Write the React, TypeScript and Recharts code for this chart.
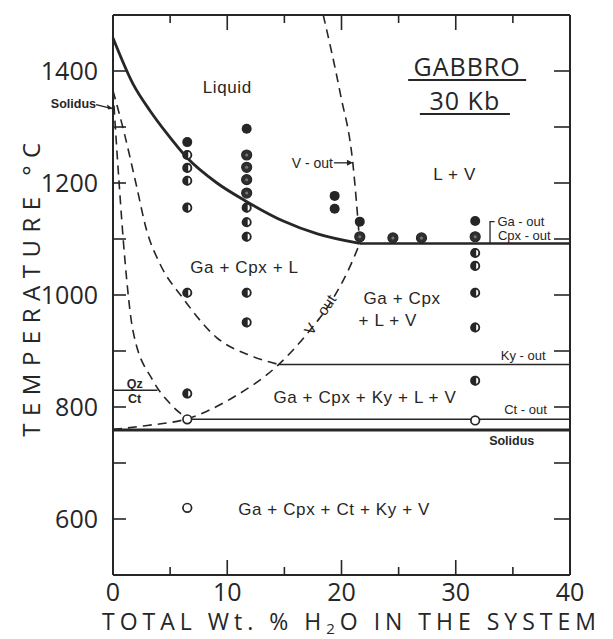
import React from "react";
import { ComposedChart, Line, Scatter, XAxis, YAxis, ReferenceLine } from "recharts";

const ink = "#262626";
const axisFont = "'Open Sans', 'DejaVu Sans', sans-serif";
const labelFont = "'Liberation Sans', Arial, sans-serif";

// axes
const xTicks = [0, 5, 10, 15, 20, 25, 30, 35, 40];
const xTickLabels = [0, 10, 20, 30, 40];
const yTicks = [500, 600, 700, 800, 900, 1000, 1100, 1200, 1300, 1400, 1500];
const yTickLabels = [600, 800, 1000, 1200, 1400];

// phase boundaries (wt % H2O, °C)
const liquidus = [
  { x: 0, y: 1459 },
  { x: 1.75, y: 1377 },
  { x: 3.24, y: 1329 },
  { x: 4.73, y: 1288 },
  { x: 6.48, y: 1245 },
  { x: 9.1, y: 1200 },
  { x: 11.6, y: 1168 },
  { x: 14.9, y: 1132 },
  { x: 17.9, y: 1109 },
  { x: 21.6, y: 1092 },
];
const cpxOut = [
  { x: 21.6, y: 1092 },
  { x: 40, y: 1092 },
];
const vOutUpper = [
  { x: 18.4, y: 1500 },
  { x: 19.9, y: 1359 },
  { x: 21.0, y: 1234 },
  { x: 21.6, y: 1092 },
];
const vOutLower = [
  { x: 0, y: 760 },
  { x: 3, y: 767 },
  { x: 6.5, y: 779 },
  { x: 10.5, y: 817 },
  { x: 14.4, y: 874 },
  { x: 17, y: 931 },
  { x: 19.3, y: 995 },
  { x: 20.7, y: 1049 },
  { x: 21.6, y: 1092 },
];
const qzOut = [
  { x: 0, y: 1365 },
  { x: 0.5, y: 1210 },
  { x: 1.05, y: 1061 },
  { x: 1.75, y: 936 },
  { x: 3.5, y: 847 },
  { x: 5, y: 806 },
  { x: 6.5, y: 779 },
];
const glassBoundary = [
  { x: 0, y: 1365 },
  { x: 1, y: 1288 },
  { x: 2, y: 1200 },
  { x: 2.95, y: 1115 },
  { x: 4.1, y: 1056 },
  { x: 6.1, y: 995 },
  { x: 9.07, y: 924 },
  { x: 12, y: 892 },
  { x: 14.5, y: 876 },
];
const kyOut = [
  { x: 14.5, y: 876 },
  { x: 40, y: 876 },
];
const ctOut = [
  { x: 6.5, y: 778 },
  { x: 40, y: 778 },
];
const solidus = [
  { x: 0, y: 759 },
  { x: 40, y: 759 },
];
const qzCt = [
  { x: 0, y: 830 },
  { x: 3.9, y: 830 },
];
const gaOutBracket = [
  { x: 33.4, y: 1131 },
  { x: 33.0, y: 1131 },
  { x: 33.0, y: 1093 },
];

// experimental runs
const liquidRuns = [
  { x: 6.5, y: 1273 },
  { x: 11.7, y: 1297 },
  { x: 19.4, y: 1177 },
  { x: 19.4, y: 1154 },
  { x: 21.6, y: 1131 },
  { x: 31.7, y: 1132 },
];
const nearLiquidusRuns = [
  { x: 11.7, y: 1250 },
  { x: 11.7, y: 1228 },
  { x: 11.7, y: 1206 },
  { x: 11.7, y: 1182 },
  { x: 21.6, y: 1104 },
  { x: 24.5, y: 1102 },
  { x: 27, y: 1102 },
  { x: 31.7, y: 1104 },
];
const meltRuns = [
  { x: 6.5, y: 1250 },
  { x: 6.5, y: 1227 },
  { x: 6.5, y: 1204 },
  { x: 6.5, y: 1156 },
  { x: 6.5, y: 1004 },
  { x: 6.5, y: 824 },
  { x: 11.7, y: 1156 },
  { x: 11.7, y: 1130 },
  { x: 11.7, y: 1104 },
  { x: 11.7, y: 1004 },
  { x: 11.7, y: 951 },
  { x: 31.7, y: 1075 },
  { x: 31.7, y: 1052 },
  { x: 31.7, y: 1004 },
  { x: 31.7, y: 942 },
  { x: 31.7, y: 847 },
];
const subsolidusRuns = [
  { x: 6.5, y: 778 },
  { x: 6.5, y: 620 },
  { x: 31.7, y: 776 },
];

// text
const fieldLabels = [
  { x: 10.0, y: 1370, text: "Liquid" },
  { x: 29.9, y: 1216, text: "L + V" },
  { x: 11.5, y: 1049, text: "Ga + Cpx + L" },
  { x: 25.3, y: 993, text: "Ga + Cpx" },
  { x: 24.05, y: 954, text: "+ L + V" },
  { x: 22.05, y: 817, text: "Ga + Cpx + Ky + L + V" },
  { x: 19.35, y: 617, text: "Ga + Cpx + Ct + Ky + V" },
];
const titleLabels = [
  { x: 31.0, y: 1409, text: "GABBRO" },
  { x: 30.8, y: 1348, text: "30 Kb" },
];
const boundaryLabels = [
  { x: 35.7, y: 1131, text: "Ga - out" },
  { x: 36.0, y: 1106, text: "Cpx - out" },
  { x: 35.9, y: 892, text: "Ky - out" },
  { x: 36.1, y: 795, text: "Ct - out" },
];
const boldLabels = [
  { x: 34.9, y: 740, text: "Solidus" },
  { x: 1.9, y: 841, text: "Qz" },
  { x: 1.9, y: 815, text: "Ct" },
];
const solidusArrowLabel = [{ x: 0, y: 1333, text: "Solidus" }];
const vOutArrowLabel = [{ x: 21.0, y: 1236, text: "V - out" }];
const vOutSlantLabel = [{ x: 18.1, y: 965, text: "V - out" }];

const underlineWidth: Record<string, number> = { GABBRO: 118, "30 Kb": 90 };

// inward tick marks on all four sides, placed through the chart scales
const innerX = xTicks.filter((v) => v > 0 && v < 40);
const innerY = yTicks.filter((v) => v > 500 && v < 1500);
const bottomMarks = innerX.map((v) => ({ x: v, y: 500 }));
const topMarks = innerX.map((v) => ({ x: v, y: 1500 }));
const leftMarks = innerY.map((v) => ({ x: 0, y: v }));
const rightMarks = innerY.map((v) => ({ x: 40, y: v }));

const tickLen = (v: number) => (v % 10 === 0 ? 15 : 8);
const BottomMark = ({ cx, cy, payload }: any) => (
  <line x1={cx} y1={cy} x2={cx} y2={cy - tickLen(payload.x)} stroke={ink} strokeWidth={1.6} />
);
const TopMark = ({ cx, cy, payload }: any) => (
  <line x1={cx} y1={cy} x2={cx} y2={cy + tickLen(payload.x)} stroke={ink} strokeWidth={1.6} />
);
const LeftMark = ({ cx, cy }: any) => <line x1={cx} y1={cy} x2={cx + 13} y2={cy} stroke={ink} strokeWidth={1.6} />;
const RightMark = ({ cx, cy }: any) => <line x1={cx} y1={cy} x2={cx - 16} y2={cy} stroke={ink} strokeWidth={1.6} />;

const BottomTick = ({ x, y, payload }: any) =>
  xTickLabels.includes(payload.value) ? (
    <text x={x} y={y + 26} textAnchor="middle" fontSize={25} fontFamily={axisFont} fill={ink}>
      {payload.value}
    </text>
  ) : (
    <g />
  );

const LeftTick = ({ x, y, payload }: any) =>
  yTickLabels.includes(payload.value) ? (
    <text x={x - 15} y={y + 9} textAnchor="end" fontSize={25} fontFamily={axisFont} fill={ink}>
      {payload.value}
    </text>
  ) : (
    <g />
  );

const YTitle = (props: any) => {
  const vb = props.viewBox || { x: 0, y: 15, width: 113, height: 560 };
  const cx = vb.x + 40;
  const cy = vb.y + vb.height / 2 - 9;
  return (
    <text
      transform={`translate(${cx},${cy}) rotate(-90)`}
      textAnchor="middle"
      fontSize={24}
      fontFamily={axisFont}
      letterSpacing={7.5}
      fill={ink}
    >
      TEMPERATURE °C
    </text>
  );
};

const XTitle = (props: any) => {
  const vb = props.viewBox || { x: 113, y: 575, width: 457, height: 64 };
  return (
    <text
      x={vb.x + vb.width / 2 + 10}
      y={vb.y + 55}
      textAnchor="middle"
      fontSize={23}
      fontFamily={axisFont}
      letterSpacing={5}
      fill={ink}
    >
      TOTAL Wt. % H
      <tspan fontSize={15} dy={4}>2</tspan>
      <tspan dy={-4}>O IN THE SYSTEM</tspan>
    </text>
  );
};

const R = 5;
const FilledDot = ({ cx, cy }: any) => <circle cx={cx} cy={cy} r={R} fill={ink} />;
const DarkDot = ({ cx, cy }: any) => (
  <g>
    <circle cx={cx} cy={cy} r={R} fill="#303030" stroke={ink} strokeWidth={1.2} />
    <circle cx={cx} cy={cy} r={1.5} fill="#777" />
  </g>
);
const HalfDot = ({ cx, cy }: any) => (
  <g>
    <circle cx={cx} cy={cy} r={R - 0.9} fill="#fff" stroke={ink} strokeWidth={1.9} />
    <path d={`M${cx + 1},${cy - R} A${R},${R} 0 0 0 ${cx + 1},${cy + R} Z`} fill={ink} />
  </g>
);
const OpenDot = ({ cx, cy }: any) => (
  <circle cx={cx} cy={cy} r={R - 0.7} fill="#fff" stroke={ink} strokeWidth={1.7} />
);

const FieldText = ({ cx, cy, payload }: any) => (
  <text x={cx} y={cy} textAnchor="middle" dominantBaseline="central" fontSize={17} fontFamily={labelFont} letterSpacing={0.6} fill={ink}>
    {payload.text}
  </text>
);

const TitleText = ({ cx, cy, payload }: any) => {
  const w = underlineWidth[payload.text] || 100;
  return (
    <g>
      <text x={cx} y={cy} textAnchor="middle" dominantBaseline="central" fontSize={25} fontFamily={axisFont} letterSpacing={1} fill={ink}>
        {payload.text}
      </text>
      <line x1={cx - w / 2} y1={cy + 14} x2={cx + w / 2} y2={cy + 14} stroke={ink} strokeWidth={2} />
    </g>
  );
};

const BoundaryText = ({ cx, cy, payload }: any) => (
  <text x={cx} y={cy} textAnchor="middle" dominantBaseline="central" fontSize={13} fontFamily={labelFont} fill={ink}>
    {payload.text}
  </text>
);

const BoldText = ({ cx, cy, payload }: any) => (
  <text x={cx} y={cy} textAnchor="middle" dominantBaseline="central" fontSize={12.5} fontWeight={700} fontFamily={labelFont} fill={ink}>
    {payload.text}
  </text>
);

const SolidusArrow = ({ cx, cy, payload }: any) => (
  <g>
    <text x={cx - 17} y={cy - 5} textAnchor="end" dominantBaseline="central" fontSize={12.5} fontWeight={700} fontFamily={labelFont} fill={ink}>
      {payload.text}
    </text>
    <line x1={cx - 17} y1={cy - 4} x2={cx - 1} y2={cy} stroke={ink} strokeWidth={1.3} />
    <path d={`M${cx},${cy} l-6,-4 l1,5 Z`} fill={ink} />
  </g>
);

const VOutArrow = ({ cx, cy, payload }: any) => (
  <g>
    <text x={cx - 20} y={cy} textAnchor="end" dominantBaseline="central" fontSize={14} fontFamily={labelFont} fill={ink}>
      {payload.text}
    </text>
    <line x1={cx - 19} y1={cy} x2={cx - 2} y2={cy} stroke={ink} strokeWidth={1.3} />
    <path d={`M${cx},${cy} l-6,-3 l0,6 Z`} fill={ink} />
  </g>
);

const VOutSlant = ({ cx, cy, payload }: any) => (
  <text
    transform={`translate(${cx},${cy}) rotate(-56)`}
    textAnchor="middle"
    dominantBaseline="central"
    fontSize={15}
    fontFamily={labelFont}
    fill={ink}
  >
    {payload.text}
  </text>
);

const dashed = { strokeDasharray: "9 6", strokeWidth: 1.6 };

export default function App() {
  return (
    <div style={{ position: "absolute", left: 0, top: 0, background: "#fff" }}>
      <ComposedChart width={613} height={639} margin={{ top: 15, right: 43, bottom: 0, left: 0 }}>
        <XAxis
          dataKey="x"
          type="number"
          domain={[0, 40]}
          ticks={xTicks}
          interval={0}
          height={64}
          tickSize={0}
          tickMargin={0}
          tickLine={false}
          axisLine={{ stroke: ink, strokeWidth: 2 }}
          tick={<BottomTick />}
          label={<XTitle />}
        />
        <YAxis
          type="number"
          domain={[500, 1500]}
          ticks={yTicks}
          interval={0}
          width={113}
          tickSize={0}
          tickMargin={0}
          tickLine={false}
          axisLine={{ stroke: ink, strokeWidth: 2 }}
          tick={<LeftTick />}
          label={<YTitle />}
        />
        {/* top and right edges of the frame */}
        <ReferenceLine y={1500} stroke={ink} strokeWidth={2} />
        <ReferenceLine x={40} stroke={ink} strokeWidth={2} />

        <Line data={liquidus} dataKey="y" type="monotone" stroke={ink} strokeWidth={2.8} dot={false} isAnimationActive={false} />
        <Line data={cpxOut} dataKey="y" type="linear" stroke={ink} strokeWidth={2.6} dot={false} isAnimationActive={false} />
        <Line data={vOutUpper} dataKey="y" type="monotone" stroke={ink} {...dashed} dot={false} isAnimationActive={false} />
        <Line data={vOutLower} dataKey="y" type="monotone" stroke={ink} {...dashed} dot={false} isAnimationActive={false} />
        <Line data={qzOut} dataKey="y" type="monotone" stroke={ink} {...dashed} dot={false} isAnimationActive={false} />
        <Line data={glassBoundary} dataKey="y" type="monotone" stroke={ink} {...dashed} dot={false} isAnimationActive={false} />
        <Line data={kyOut} dataKey="y" type="linear" stroke={ink} strokeWidth={1.6} dot={false} isAnimationActive={false} />
        <Line data={ctOut} dataKey="y" type="linear" stroke={ink} strokeWidth={1.6} dot={false} isAnimationActive={false} />
        <Line data={solidus} dataKey="y" type="linear" stroke={ink} strokeWidth={3} dot={false} isAnimationActive={false} />
        <Line data={qzCt} dataKey="y" type="linear" stroke={ink} strokeWidth={1.6} dot={false} isAnimationActive={false} />
        <Line data={gaOutBracket} dataKey="y" type="linear" stroke={ink} strokeWidth={1.3} dot={false} isAnimationActive={false} />

        <Scatter data={bottomMarks} dataKey="y" shape={<BottomMark />} isAnimationActive={false} />
        <Scatter data={topMarks} dataKey="y" shape={<TopMark />} isAnimationActive={false} />
        <Scatter data={leftMarks} dataKey="y" shape={<LeftMark />} isAnimationActive={false} />
        <Scatter data={rightMarks} dataKey="y" shape={<RightMark />} isAnimationActive={false} />

        <Scatter data={liquidRuns} dataKey="y" shape={<FilledDot />} isAnimationActive={false} />
        <Scatter data={nearLiquidusRuns} dataKey="y" shape={<DarkDot />} isAnimationActive={false} />
        <Scatter data={meltRuns} dataKey="y" shape={<HalfDot />} isAnimationActive={false} />
        <Scatter data={subsolidusRuns} dataKey="y" shape={<OpenDot />} isAnimationActive={false} />

        <Scatter data={fieldLabels} dataKey="y" shape={<FieldText />} isAnimationActive={false} />
        <Scatter data={titleLabels} dataKey="y" shape={<TitleText />} isAnimationActive={false} />
        <Scatter data={boundaryLabels} dataKey="y" shape={<BoundaryText />} isAnimationActive={false} />
        <Scatter data={boldLabels} dataKey="y" shape={<BoldText />} isAnimationActive={false} />
        <Scatter data={solidusArrowLabel} dataKey="y" shape={<SolidusArrow />} isAnimationActive={false} />
        <Scatter data={vOutArrowLabel} dataKey="y" shape={<VOutArrow />} isAnimationActive={false} />
        <Scatter data={vOutSlantLabel} dataKey="y" shape={<VOutSlant />} isAnimationActive={false} />
      </ComposedChart>
    </div>
  );
}
